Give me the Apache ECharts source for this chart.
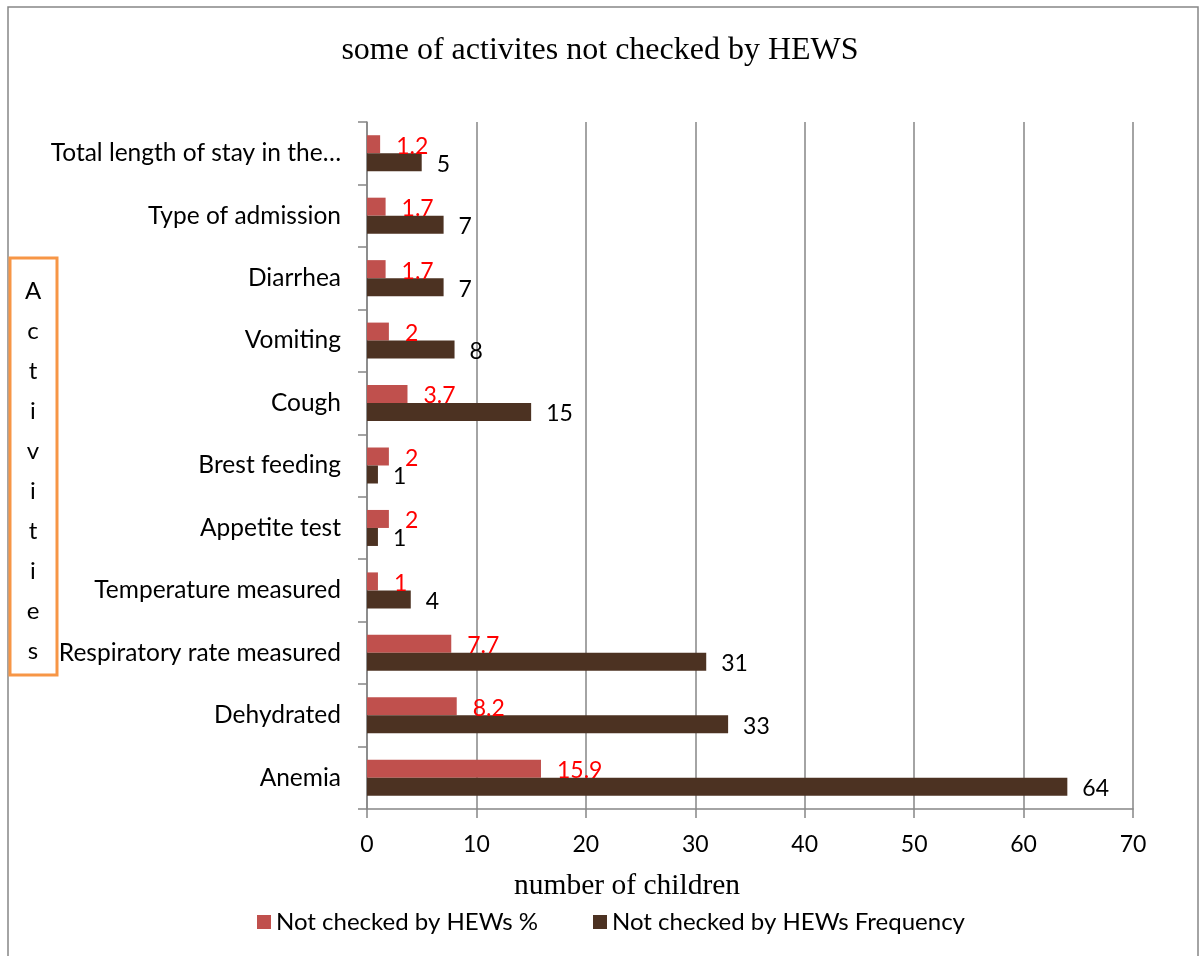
<!DOCTYPE html>
<html>
<head>
<meta charset="utf-8">
<script src="https://cdn.jsdelivr.net/npm/echarts@6/dist/echarts.min.js"></script>
<style>html,body{margin:0;padding:0;background:#fff}#c{width:1200px;height:956px}</style>
</head>
<body>
<div id="c"></div>
<script>
var categories = ['Anemia','Dehydrated','Respiratory rate measured','Temperature measured','Appetite test','Brest feeding','Cough','Vomiting','Diarrhea','Type of admission','Total length of stay in the…'];
var pctValues = [15.9, 8.2, 7.7, 1, 2, 2, 3.7, 2, 1.7, 1.7, 1.2];
var freqValues = [64, 33, 31, 4, 1, 1, 15, 8, 7, 7, 5];
var xTicks = [0, 10, 20, 30, 40, 50, 60, 70];
var seriesNames = ['Not checked by HEWs %', 'Not checked by HEWs Frequency'];
var axisLetters = 'Activities'.split('');

var FONT = 'Lato';
var chart = echarts.init(document.getElementById('c'));
chart.setOption({
  animation: false,
  backgroundColor: '#fff',
  title: {
    text: 'some of activites not checked by HEWS',
    left: 'center', top: 30,
    textStyle: { fontFamily: 'Liberation Serif', fontSize: 32, fontWeight: 'normal', color: '#000' }
  },
  grid: { left: 367, right: 67, top: 122, bottom: 147 },
  xAxis: {
    type: 'value', min: xTicks[0], max: xTicks[xTicks.length - 1], interval: 10,
    axisLine: { show: true, lineStyle: { color: '#868686', width: 1.5 } },
    axisTick: { show: true, length: 9, lineStyle: { color: '#868686', width: 1.5 } },
    axisLabel: { fontFamily: FONT, fontSize: 23, color: '#000', margin: 24 },
    splitLine: { show: true, lineStyle: { color: '#868686', width: 1.5 } }
  },
  yAxis: {
    type: 'category', data: categories,
    axisLine: { show: true, lineStyle: { color: '#868686', width: 1.5 } },
    axisTick: { show: true, length: 9, lineStyle: { color: '#868686', width: 1.5 } },
    axisLabel: { fontFamily: FONT, fontSize: 24.5, color: '#000', margin: 26 }
  },
  legend: [
    { left: 252, top: 905, icon: 'rect', itemWidth: 14, itemHeight: 14, itemGap: 8,
      data: [seriesNames[0]], textStyle: { fontFamily: FONT, fontSize: 24, color: '#000' } },
    { left: 588, top: 905, icon: 'rect', itemWidth: 14, itemHeight: 14, itemGap: 8,
      data: [seriesNames[1]], textStyle: { fontFamily: FONT, fontSize: 24, color: '#000' } }
  ],
  series: [
    {
      name: seriesNames[0], type: 'bar', data: pctValues,
      barWidth: 18, barGap: '0%', barCategoryGap: '42%',
      itemStyle: { color: '#C0504D' },
      label: { show: true, position: 'right', distance: 16, color: '#FF0000', fontFamily: FONT, fontSize: 23, offset: [0, 2] }
    },
    {
      name: seriesNames[1], type: 'bar', data: freqValues,
      barWidth: 18, barGap: '0%', barCategoryGap: '42%',
      itemStyle: { color: '#4c3222' },
      label: { show: true, position: 'right', distance: 15, color: '#000', fontFamily: FONT, fontSize: 23, offset: [0, 2] }
    }
  ],
  graphic: [
    { type: 'rect', shape: { x: 8, y: 7, width: 1190, height: 960 }, style: { fill: 'none', stroke: '#868686', lineWidth: 1.5 }, silent: true },
    { type: 'rect', shape: { x: 10, y: 258, width: 47, height: 417 }, style: { fill: '#fff', stroke: '#F79646', lineWidth: 3 }, z: 10 },
    { type: 'text', x: 33, y: 271, z: 11, style: { text: axisLetters.join('\n'), fontFamily: FONT, fontSize: 24, lineHeight: 40, align: 'center', verticalAlign: 'top', fill: '#000' } },
    { type: 'text', x: 627, y: 886, style: { text: 'number of children', fontFamily: 'Liberation Serif', fontSize: 29.5, align: 'center', verticalAlign: 'middle', fill: '#000' } }
  ]
});
</script>
</body>
</html>
